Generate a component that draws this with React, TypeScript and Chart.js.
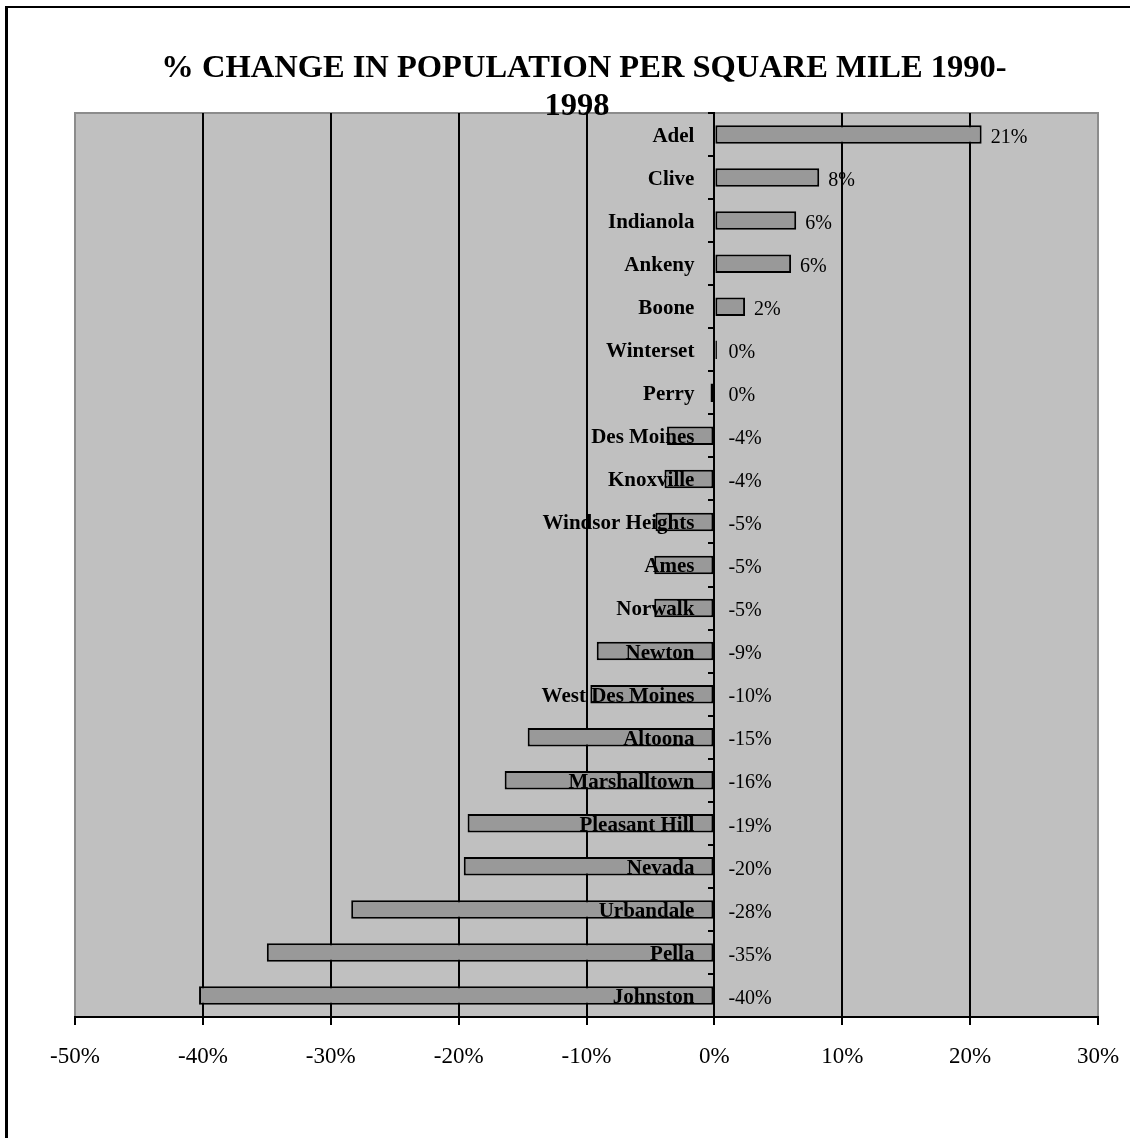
import { useEffect, useRef } from 'react';
import { Chart, registerables } from 'chart.js';

Chart.register(...registerables);

// Cities, top to bottom
const cities = [
  'Adel', 'Clive', 'Indianola', 'Ankeny', 'Boone', 'Winterset', 'Perry',
  'Des Moines', 'Knoxville', 'Windsor Heights', 'Ames', 'Norwalk', 'Newton',
  'West Des Moines', 'Altoona', 'Marshalltown', 'Pleasant Hill', 'Nevada',
  'Urbandale', 'Pella', 'Johnston',
];

// % change in population per square mile, 1990-1998
const pctChange = [
  20.9, 8.2, 6.4, 6.0, 2.4, 0.2, -0.3,
  -3.7, -3.9, -4.6, -4.7, -4.7, -9.2,
  -9.7, -14.6, -16.4, -19.3, -19.6,
  -28.4, -35.0, -40.3,
];

// Value axis range and step (percent)
const axisMin = -50;
const axisMax = 30;
const axisStep = 10;

const titleLines = ['% CHANGE IN POPULATION PER SQUARE MILE 1990-', '1998'];

const SERIF = "'Liberation Serif', 'Times New Roman', serif";
const W = 1130;
const H = 1138;

const fmtPct = (v: number) => `${Math.round(v)}%`;

// Gray plot background, gray frame and black outer frame
const backgroundPlugin = {
  id: 'plotBackground',
  beforeDraw(chart: any) {
    const { ctx, chartArea: a } = chart;
    ctx.save();
    ctx.fillStyle = '#ffffff';
    ctx.fillRect(0, 0, W, H);
    ctx.fillStyle = '#000000';
    ctx.fillRect(5, 6, 3, H);
    ctx.fillRect(5, 6, W, 2);
    ctx.fillStyle = '#c0c0c0';
    ctx.fillRect(a.left, a.top, a.right - a.left, a.bottom - a.top);
    ctx.strokeStyle = '#8c8c8c';
    ctx.lineWidth = 2;
    ctx.beginPath();
    ctx.moveTo(a.left, a.bottom);
    ctx.lineTo(a.left, a.top);
    ctx.lineTo(a.right, a.top);
    ctx.lineTo(a.right, a.bottom);
    ctx.stroke();
    ctx.restore();
  },
};

// City names left of the zero line and percentage labels beside each bar,
// both drawn over the bars
const barTextPlugin = {
  id: 'barText',
  afterDatasetsDraw(chart: any) {
    const { ctx } = chart;
    const meta = chart.getDatasetMeta(0);
    const yScale = chart.scales.y;
    const zeroX = chart.scales.x.getPixelForValue(0);
    ctx.save();
    ctx.fillStyle = '#000000';
    ctx.textBaseline = 'middle';

    ctx.font = `bold 21px ${SERIF}`;
    ctx.textAlign = 'right';
    cities.forEach((name, i) => {
      ctx.fillText(name, zeroX - 20, yScale.getPixelForValue(i) + 2);
    });

    ctx.font = `20px ${SERIF}`;
    ctx.textAlign = 'left';
    meta.data.forEach((bar: any, i: number) => {
      const v = pctChange[i];
      const x = v > 0.5 ? bar.x + 9 : zeroX + 14;
      ctx.fillText(fmtPct(v), x, bar.y + 3);
    });
    ctx.restore();
  },
};

// Two-line title, drawn last so it sits over the plot frame
const titlePlugin = {
  id: 'twoLineTitle',
  afterDraw(chart: any) {
    const { ctx } = chart;
    ctx.save();
    ctx.font = `bold 32.5px ${SERIF}`;
    ctx.fillStyle = '#000000';
    ctx.textAlign = 'center';
    ctx.textBaseline = 'alphabetic';
    ctx.fillText(titleLines[0], 584, 77);
    ctx.fillText(titleLines[1], 577, 115);
    ctx.restore();
  },
};

export default function App() {
  const canvasRef = useRef<HTMLCanvasElement | null>(null);

  useEffect(() => {
    const canvas = canvasRef.current;
    if (!canvas) return;
    const chart = new Chart(canvas, {
      type: 'bar',
      data: {
        labels: cities,
        datasets: [
          {
            data: pctChange,
            backgroundColor: '#999999',
            borderColor: '#000000',
            borderWidth: 2,
            borderSkipped: false,
            barPercentage: 0.43,
            categoryPercentage: 1,
          },
        ],
      },
      options: {
        indexAxis: 'y',
        animation: false,
        responsive: false,
        devicePixelRatio: 1,
        layout: { padding: { left: 75, top: 113, right: 32, bottom: 0 } },
        plugins: {
          legend: { display: false },
          title: { display: false },
          tooltip: { enabled: false },
        },
        scales: {
          x: {
            type: 'linear',
            position: 'bottom',
            min: axisMin,
            max: axisMax,
            afterFit: (scale: any) => {
              scale.height = 121;
              scale.paddingLeft = 0;
              scale.paddingRight = 0;
            },
            ticks: {
              stepSize: axisStep,
              callback: (v: any) => fmtPct(Number(v)),
              font: { family: SERIF, size: 23 },
              color: '#000000',
              padding: 18,
              maxRotation: 0,
            },
            grid: {
              color: (c: any) =>
                c.tick && (c.tick.value === axisMin || c.tick.value === axisMax)
                  ? '#8c8c8c'
                  : '#000000',
              tickColor: '#000000',
              lineWidth: 2,
              tickLength: 8,
              drawOnChartArea: true,
            },
            border: { display: true, color: '#000000', width: 2 },
          },
          y: {
            type: 'category',
            position: { x: 0 } as any,
            ticks: { display: false, autoSkip: false },
            grid: {
              drawOnChartArea: false,
              drawTicks: true,
              tickLength: 5,
              color: '#000000',
              lineWidth: 2,
              offset: true,
              z: 1,
            },
            border: { display: true, color: '#000000', width: 2, z: 1 },
          },
        },
      },
      plugins: [backgroundPlugin, barTextPlugin, titlePlugin],
    });
    return () => chart.destroy();
  }, []);

  return (
    <div style={{ position: 'absolute', left: 0, top: 0, width: W, height: H }}>
      <canvas ref={canvasRef} width={W} height={H} style={{ display: 'block' }} />
    </div>
  );
}
